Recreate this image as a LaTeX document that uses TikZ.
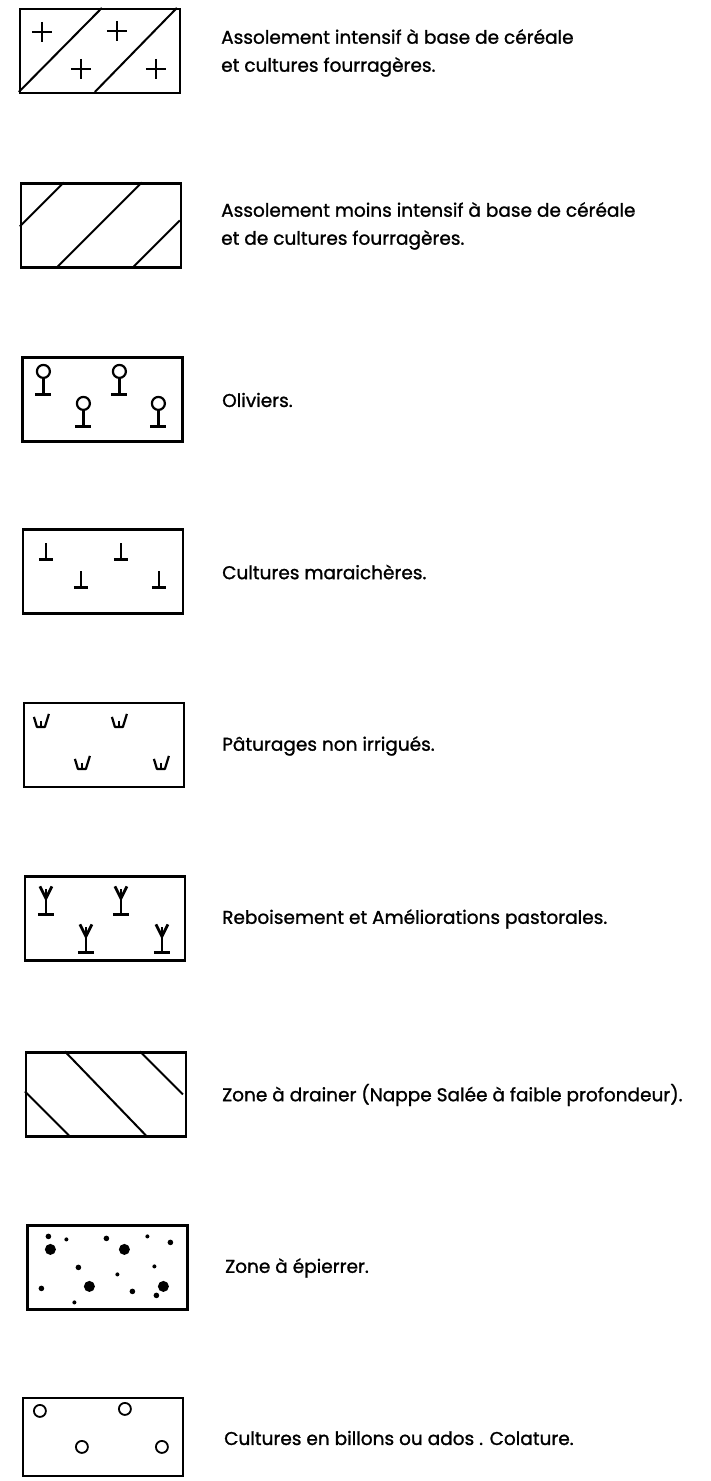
\documentclass[tikz,border=0pt]{standalone}
\usepackage{fontspec}
\setmainfont{Poppins}[FakeBold=1.2]
\usetikzlibrary{positioning}

\begin{document}
\begin{tikzpicture}[x=1pt,y=-1pt,
  legbox/.style={draw, line width=2.2pt, minimum width=160pt, minimum height=84pt, inner sep=0pt},
  legtext/.style={anchor=west, align=left, inner sep=0pt, font=\fontsize{18.5}{28}\selectfont},
  hatch/.style={line width=2pt},
  symb/.style={line width=2.8pt}]

\useasboundingbox (0,0) rectangle (711,1481);

% Legend boxes, top to bottom
\node[legbox] (b1) at (100,51) {};
\node[legbox] (b2) at (101,225.5) {};
\node[legbox] (b3) at (102.5,399.5) {};
\node[legbox] (b4) at (103,571.5) {};
\node[legbox] (b5) at (104,745) {};
\node[legbox] (b6) at (105,918.5) {};
\node[legbox] (b7) at (106,1094.5) {};
\node[legbox] (b8) at (107.5,1267.5) {};
\node[legbox, minimum height=78pt] (b9) at (103,1437) {};

% Box 1: hatching with crosses
\begin{scope}[shift={(b1.north west)}]
  \draw[hatch] (0,84) -- (83,0);
  \draw[hatch] (76,84) -- (158,0);
  \foreach \x/\y in {23/24, 98/23, 62/61, 137/61} {
    \draw[line width=1.8pt] (\x-10,\y) -- (\x+10,\y);
    \draw[line width=1.8pt] (\x,\y-10) -- (\x,\y+10);
  }
\end{scope}

% Box 2: hatching only
\begin{scope}[shift={(b2.north west)}]
  \draw[hatch] (0,44) -- (44,0);
  \draw[hatch] (38,84) -- (122,0);
  \draw[hatch] (114,84) -- (160,38);
\end{scope}

% Box 3: olive trees
\begin{scope}[shift={(b3.north west)}]
  \foreach \x/\y in {22/15, 98/15, 62/47, 137/47} {
    \draw[line width=2.2pt] (\x,\y) circle (6.5);
    \draw[symb] (\x,\y+6.5) -- (\x,\y+23);
    \draw[symb] (\x-8,\y+23) -- (\x+8,\y+23);
  }
\end{scope}

% Box 4: inverted T marks
\begin{scope}[shift={(b4.north west)}]
  \foreach \x/\y in {24/15, 99/15, 59/43, 137/43} {
    \draw[line width=2.2pt] (\x,\y) -- (\x,\y+16);
    \draw[line width=2.2pt] (\x-7,\y+16) -- (\x+7,\y+16);
  }
\end{scope}

% Box 5: grass tufts
\begin{scope}[shift={(b5.north west)}]
  \foreach \x/\y in {18/20, 96/20, 59/62, 138/62} {
    \draw[line width=2.2pt, line join=round] (\x-7,\y-5) -- (\x-4,\y+5) -- (\x+4,\y+5) -- (\x+8,\y-8);
    \draw[line width=2pt] (\x,\y-1) -- (\x,\y+5);
  }
\end{scope}

% Box 6: young trees (reforestation)
\begin{scope}[shift={(b6.north west)}]
  \foreach \x/\y in {22/11, 97/11, 62/49, 138/49} {
    \draw[symb] (\x-6,\y) -- (\x,\y+12) -- (\x+6,\y);
    \draw[symb] (\x,\y+3) -- (\x,\y+28);
    \draw[symb] (\x-8,\y+28) -- (\x+8,\y+28);
  }
\end{scope}

% Box 7: reverse hatching
\begin{scope}[shift={(b7.north west)}]
  \draw[hatch] (0,40) -- (44,84);
  \draw[hatch] (40,0) -- (121,84);
  \draw[hatch] (115,0) -- (158,43);
\end{scope}

% Box 8: stones, big and small
\begin{scope}[shift={(b8.north west)}]
  \foreach \x/\y in {24/25, 98/25, 63/62, 137/62}
    \fill (\x,\y) circle (5.5);
  \foreach \x/\y in {22/12, 80/14, 144/18, 52/43, 15/64, 106/67, 130/71}
    \fill (\x,\y) circle (2.8);
  \foreach \x/\y in {40/15, 121/12, 91/50, 128/42, 48/78}
    \fill (\x,\y) circle (2);
\end{scope}

% Box 9: ridges
\begin{scope}[shift={(b9.north west)}]
  \foreach \x/\y in {18/14, 103/12, 60/50, 140/50}
    \draw[line width=1.8pt] (\x,\y) circle (6);
\end{scope}

% Labels
\node[legtext] (t1) at (221,53) {Assolement intensif à base de céréale\\et cultures fourragères.};
\node[legtext] (t2) at (221,226) {Assolement moins intensif à base de céréale\\et de cultures fourragères.};
\node[legtext] (t3) at (222,400) {Oliviers.};
\node[legtext] (t4) at (222,572) {Cultures maraichères.};
\node[legtext] (t5) at (222,746) {Pâturages non irrigués.};
\node[legtext] (t6) at (222,919) {Reboisement et Améliorations pastorales.};
\node[legtext] (t7) at (222,1095) {Zone à drainer (Nappe Salée à faible profondeur).};
\node[legtext] (t8) at (225,1268) {Zone à épierrer.};
\node[legtext] (t9) at (224,1438) {Cultures en billons ou ados . Colature.};

\end{tikzpicture}
\end{document}
